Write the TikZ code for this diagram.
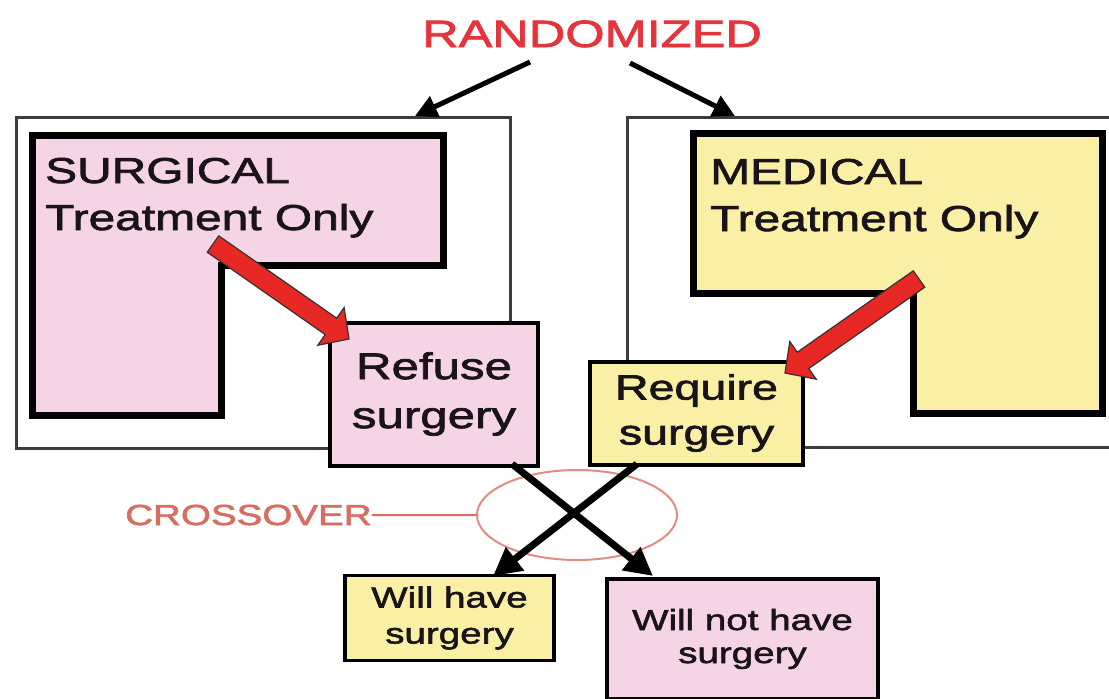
\documentclass[tikz,border=0pt]{standalone}
\usepackage{fontspec}
\setmainfont{Liberation Sans}[FakeStretch=1.33,FakeBold=2]
\usetikzlibrary{arrows.meta,calc,shapes.geometric}
\definecolor{pinkfill}{RGB}{245,212,230}
\definecolor{yelfill}{RGB}{249,240,165}
\definecolor{titlered}{RGB}{228,52,60}
\definecolor{xred}{RGB}{214,110,100}
\definecolor{ellred}{RGB}{226,140,130}
\definecolor{boxgray}{RGB}{60,60,60}
\definecolor{arrred}{RGB}{232,40,36}
\definecolor{ink}{RGB}{25,20,25}
\begin{document}
\begin{tikzpicture}[x=1pt,y=-1pt,
  outerbox/.style={draw=boxgray,line width=3pt},
  lshape/.style={draw=black,line width=7pt,line join=miter},
  smallbox/.style={draw=black,line width=4pt,align=center,inner sep=0pt,text=ink},
  blackarr/.style={line width=5pt,-{Triangle[length=22pt,width=22pt]}},
  crossarr/.style={line width=7pt,-{Triangle[length=28pt,width=28pt]}},
  redarr/.style={fill=arrred,draw=black!80,line width=1.2pt,line join=miter},
  bigtext/.style={anchor=base west,align=left,inner sep=0pt,text=ink,font=\fontsize{36}{47}\selectfont},
]
\fill[white] (0,0) rectangle (1109,699);
\useasboundingbox (0,0) rectangle (1109,699);

% title
\node[anchor=base,inner sep=0pt,text=titlered,font=\fontsize{38}{40}\selectfont] (rand) at (592,47) {RANDOMIZED};

% outer boxes
\draw[outerbox] (16,117) rectangle (510,448);
\draw[outerbox] (1115,117) -- (627,117) -- (627,447) -- (1115,447);

% L shapes
\draw[lshape,fill=pinkfill] (32,135) -- (443,135) -- (443,265) -- (221,265) -- (221,415) -- (32,415) -- cycle;
\draw[lshape,fill=yelfill] (693,133) -- (1102,133) -- (1102,413) -- (913,413) -- (913,293) -- (693,293) -- cycle;
\node[bigtext] (surg) at (45,230) {SURGICAL\\Treatment Only};
\node[bigtext] (med) at (710,231) {MEDICAL\\Treatment Only};

% small boxes
\node[smallbox,fill=pinkfill,minimum width=208pt,minimum height=143pt,font=\fontsize{37}{49}\selectfont] (refuse) at (434,394) {Refuse\\surgery};
\node[smallbox,fill=yelfill,minimum width=213pt,minimum height=103pt,font=\fontsize{35}{45}\selectfont] (require) at (696.5,413) {Require\\surgery};
\node[smallbox,line width=3.5pt,fill=yelfill,minimum width=209pt,minimum height=85pt,font=\fontsize{29}{36}\selectfont] (willhave) at (449.5,618) {Will have\\surgery};
\node[smallbox,line width=3.5pt,fill=pinkfill,minimum width=271pt,minimum height=120pt,font=\fontsize{29}{33}\selectfont] (willnot) at (742.5,639) {Will not have\\surgery};

% red block arrows
\coordinate (ra) at (213,244);
\coordinate (rb) at (349,339);
\coordinate (rm) at ($(rb)!22pt!(ra)$);
\draw[redarr] ($(ra)!10pt!90:(rb)$) -- ($(rm)!10pt!90:(rb)$) -- ($(rm)!23pt!90:(rb)$) -- (rb)
  -- ($(rm)!23pt!-90:(rb)$) -- ($(rm)!10pt!-90:(rb)$) -- ($(ra)!10pt!-90:(rb)$) -- cycle;
\coordinate (ya) at (919,279);
\coordinate (yb) at (785,373);
\coordinate (ym) at ($(yb)!22pt!(ya)$);
\draw[redarr] ($(ya)!10pt!90:(yb)$) -- ($(ym)!10pt!90:(yb)$) -- ($(ym)!23pt!90:(yb)$) -- (yb)
  -- ($(ym)!23pt!-90:(yb)$) -- ($(ym)!10pt!-90:(yb)$) -- ($(ya)!10pt!-90:(yb)$) -- cycle;

% randomized arrows
\coordinate (t1) at (530,62);
\coordinate (t2) at (630,63);
\coordinate (l1) at (415,116);
\coordinate (r1) at (735,116);
\draw[blackarr] (t1) -- (l1);
\draw[blackarr] (t2) -- (r1);

% crossover
\node[draw=ellred,line width=2pt,ellipse,minimum width=200pt,minimum height=90pt,inner sep=0pt] (xo) at (577,515) {};
\node[anchor=base west,inner sep=0pt,text=xred,font=\fontsize{29}{30}\selectfont] (xlab) at (125,525) {CROSSOVER};
\draw[xred,line width=2pt] (xlab.east) -- (xo.west);

\coordinate (c1) at (512,464);
\coordinate (c2) at (637,464);
\coordinate (d1) at (653,576);
\coordinate (d2) at (493,576);
\draw[crossarr] (c1) -- (d1);
\draw[crossarr] (c2) -- (d2);
\end{tikzpicture}
\end{document}
